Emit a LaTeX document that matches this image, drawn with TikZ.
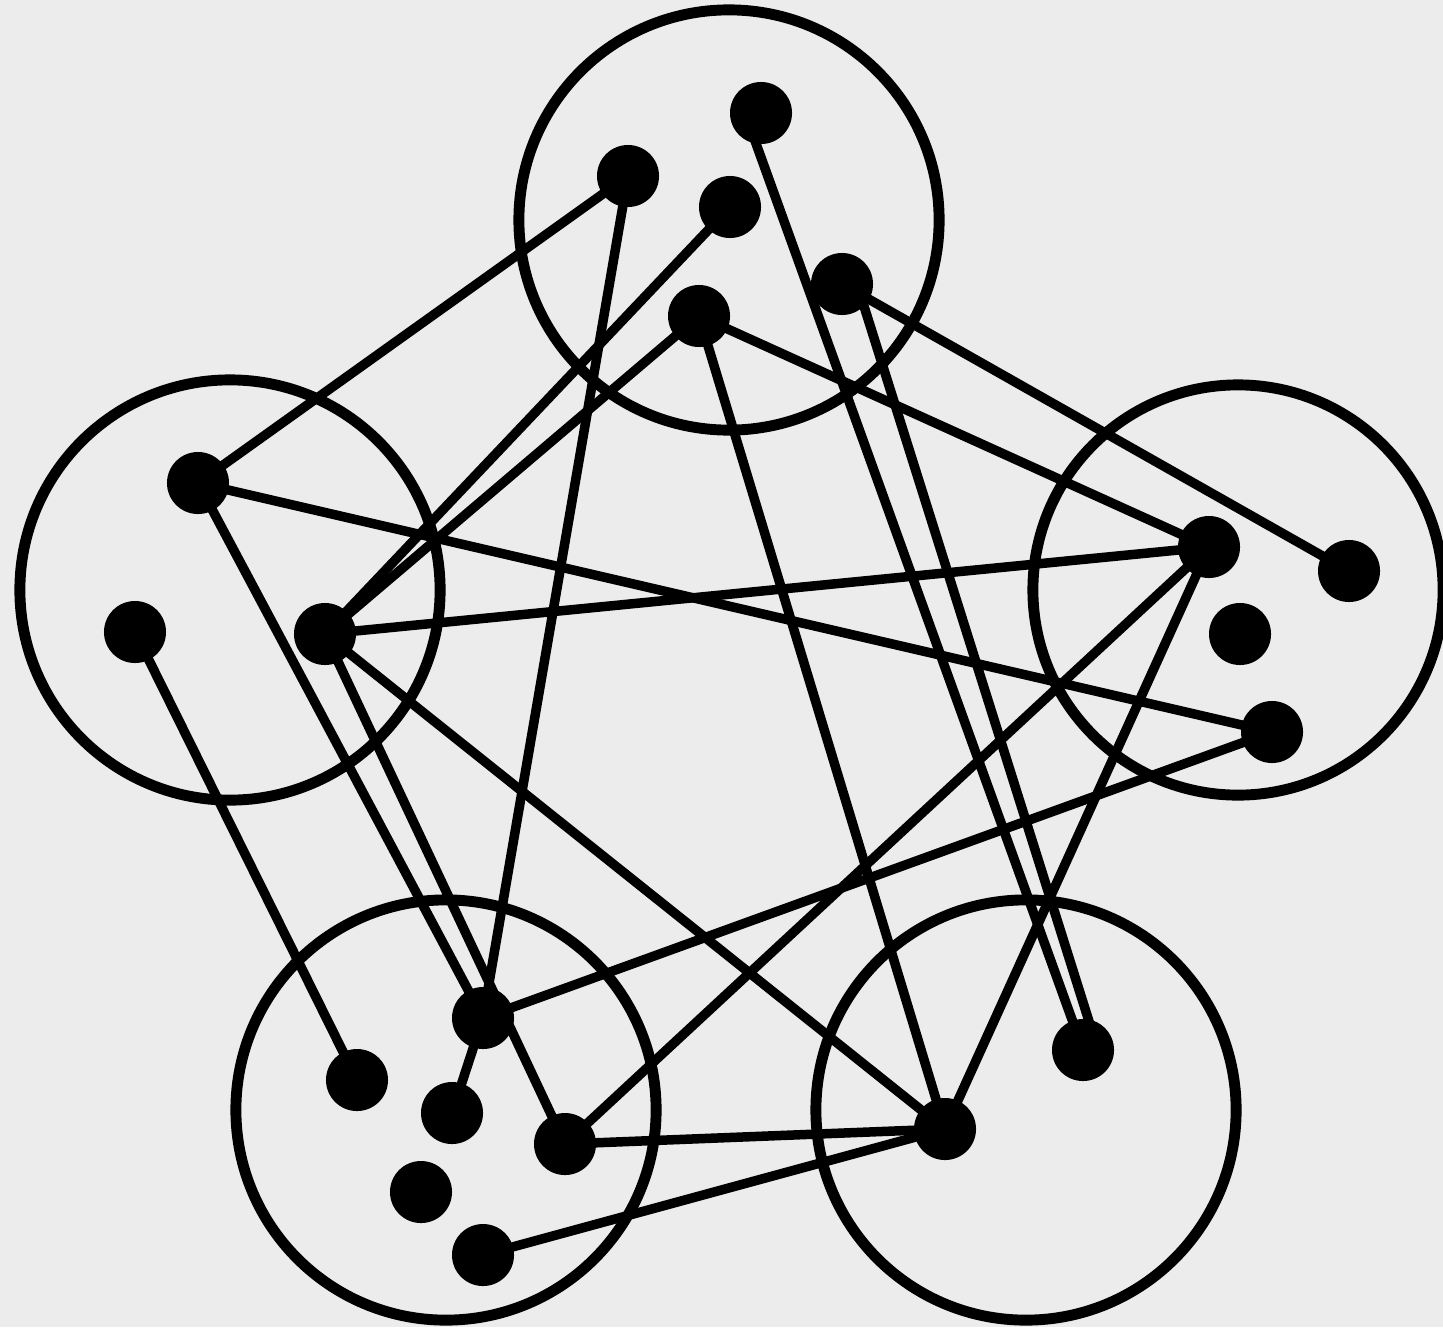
\documentclass[tikz,border=0pt]{standalone}
\definecolor{paper}{RGB}{236,236,236}
\begin{document}
\begin{tikzpicture}[
  x=0.01cm, y=-0.01cm,
  cluster/.style={circle, draw, line width=3.1pt, minimum size=4.2cm, inner sep=0pt},
  dot/.style={circle, fill, minimum size=6.2mm, inner sep=0pt},
  edge/.style={line width=2.7pt}
]
  \fill[paper] (0,0) rectangle (1443,1327);
  \useasboundingbox (0,0) rectangle (1443,1327);

  % top group
  \begin{scope}[shift={(729,220)}]
    \node[cluster] (top) at (0,0) {};
    \node[dot] (a1) at (32,-107) {};
    \node[dot] (a2) at (-101,-44) {};
    \node[dot] (a3) at (1,-13) {};
    \node[dot] (a4) at (113,64) {};
    \node[dot] (a5) at (-30,96) {};
  \end{scope}

  % left group
  \begin{scope}[shift={(230,590)}]
    \node[cluster] (left) at (0,0) {};
    \node[dot] (b1) at (-32,-107) {};
    \node[dot] (b2) at (-95,42) {};
    \node[dot] (b3) at (95,44) {};
  \end{scope}

  % right group
  \begin{scope}[shift={(1238,590)}]
    \node[cluster, minimum size=4.1cm] (right) at (0,0) {};
    \node[dot] (c1) at (-29,-43) {};
    \node[dot] (c2) at (111,-19) {};
    \node[dot] (c3) at (2,44) {};
    \node[dot] (c4) at (34,142) {};
  \end{scope}

  % bottom left group
  \begin{scope}[shift={(446,1110)}]
    \node[cluster] (bleft) at (0,0) {};
    \node[dot] (d1) at (37,-92) {};
    \node[dot] (d2) at (-89,-30) {};
    \node[dot] (d3) at (6,3) {};
    \node[dot] (d4) at (119,34) {};
    \node[dot] (d5) at (-25,82) {};
    \node[dot] (d6) at (37,145) {};
  \end{scope}

  % bottom right group
  \begin{scope}[shift={(1026,1110)}]
    \node[cluster] (bright) at (0,0) {};
    \node[dot] (e1) at (57,-60) {};
    \node[dot] (e2) at (-81,19) {};
  \end{scope}

  % edges
  \draw[edge] (a2.center) -- (b1.center);
  \draw[edge] (a2.center) -- (d1.center);
  \draw[edge] (d1.center) -- (d3.center);
  \draw[edge] (a3.center) -- (b3.center);
  \draw[edge] (a5.center) -- (b3.center);
  \draw[edge] (a5.center) -- (c1.center);
  \draw[edge] (a5.center) -- (e2.center);
  \draw[edge] ([xshift=-0.16cm]a1.center) -- (e1.center);
  \draw[edge] ([xshift=0.15cm]a4.center) -- ([xshift=0.15cm]e1.center);
  \draw[edge] (a4.center) -- (c2.center);
  \draw[edge] (b1.center) -- (c4.center);
  \draw[edge] (b1.center) -- (d1.center);
  \draw[edge] (b2.center) -- (d2.center);
  \draw[edge] (b3.center) -- (c1.center);
  \draw[edge] (b3.center) -- (e2.center);
  \draw[edge] (b3.center) -- (d4.center);
  \draw[edge] (c1.center) -- (d4.center);
  \draw[edge] (c1.center) -- (e2.center);
  \draw[edge] (c4.center) -- (d1.center);
  \draw[edge] (d4.center) -- (e2.center);
  \draw[edge] (e2.center) -- (d6.center);
\end{tikzpicture}
\end{document}
